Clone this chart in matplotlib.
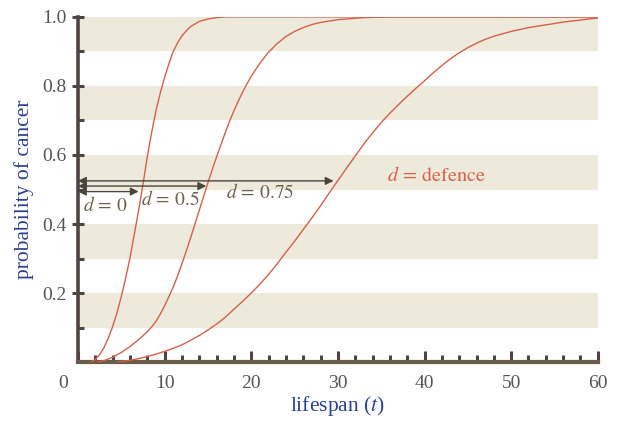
"""Probability of cancer against lifespan for three defence levels"""
import matplotlib
matplotlib.use("Agg")
import matplotlib.pyplot as plt
from matplotlib.transforms import ScaledTranslation

plt.rcParams['font.family'] = ['Liberation Serif', 'DejaVu Serif']
plt.rcParams['mathtext.fontset'] = 'stix'

# curves: lifespan t -> probability
t_d0 = [1.5, 2, 2.5, 3, 3.5, 4, 4.5, 5, 5.5, 6, 6.5, 7, 7.5, 8, 8.5, 9, 9.5,
        10, 10.5, 11, 11.5, 12, 12.5, 13, 14, 15, 16, 17, 60]
p_d0 = [0, 0.008, 0.022, 0.042, 0.07, 0.103, 0.143, 0.19, 0.243, 0.302,
        0.37, 0.44, 0.515, 0.595, 0.665, 0.728, 0.78, 0.825, 0.865, 0.9,
        0.925, 0.945, 0.96, 0.972, 0.987, 0.994, 0.998, 1.0, 1.0]

t_d05 = [2.2, 3, 4, 5, 6, 7, 8, 8.5, 9, 9.5, 10, 10.5, 11, 11.5, 12, 12.5,
         13, 13.5, 14, 14.5, 15, 15.5, 16, 16.5, 17, 17.5, 18, 18.5, 19,
         19.5, 20, 21, 22, 23, 24, 25, 26, 27, 28, 30, 33, 36, 60]
p_d05 = [0, 0.004, 0.014, 0.028, 0.045, 0.065, 0.088, 0.102, 0.118, 0.139,
         0.163, 0.19, 0.218, 0.25, 0.285, 0.322, 0.36, 0.4, 0.44, 0.48,
         0.52, 0.558, 0.595, 0.63, 0.665, 0.698, 0.728, 0.756, 0.782, 0.806,
         0.828, 0.866, 0.898, 0.923, 0.943, 0.958, 0.969, 0.978, 0.984,
         0.992, 0.998, 1.0, 1.0]

t_d075 = [4.5, 6, 7, 8, 9, 10, 11, 12, 13, 14, 15, 16, 17, 18, 19, 20, 21,
          22, 23, 24, 25, 26, 27, 28, 29, 30, 31, 32, 33, 34, 35, 36, 37,
          38, 39, 40, 41, 42, 43, 44, 45, 46, 47, 48, 50, 52, 54, 56, 58, 60]
p_d075 = [0, 0.005, 0.01, 0.016, 0.023, 0.031, 0.04, 0.05, 0.063, 0.077,
          0.093, 0.11, 0.13, 0.153, 0.176, 0.2, 0.226, 0.254, 0.285, 0.318,
          0.35, 0.384, 0.418, 0.453, 0.49, 0.526, 0.562, 0.597, 0.632, 0.664,
          0.694, 0.721, 0.746, 0.77, 0.793, 0.815, 0.838, 0.859, 0.879,
          0.896, 0.911, 0.924, 0.935, 0.944, 0.958, 0.969, 0.977, 0.985,
          0.991, 0.997]

# arrows from t=0 to where each curve passes ~0.5
arrow_ends = [7.0, 14.8, 29.5]
arrow_levels = [0.494, 0.510, 0.525]
arrow_labels = [r'$d\,=\,0$', r'$d\,=\,0.5$', r'$d\,=\,0.75$']
label_pos = [(3.2, 0.455), (10.6, 0.472), (21.0, 0.49)]

bands = [(0.1, 0.2), (0.3, 0.4), (0.5, 0.6), (0.7, 0.8), (0.9, 1.0)]

curve_col = '#d4604a'
band_col = '#eeeadb'

fig = plt.figure(figsize=(6.24, 4.23), dpi=100)
ax = fig.add_axes([0.125, 0.144, 0.833, 0.816])

for lo, hi in bands:
    ax.axhspan(lo, hi, color=band_col, lw=0, zorder=0)

for tt, pp in [(t_d0, p_d0), (t_d05, p_d05), (t_d075, p_d075)]:
    ax.plot(tt, pp, color=curve_col, lw=1.0, zorder=3)

for end, lev in zip(arrow_ends, arrow_levels):
    ax.annotate('', xy=(end, lev), xytext=(0, lev),
                arrowprops=dict(arrowstyle='<|-|>', color='#4a463c', lw=1.0,
                                mutation_scale=12, shrinkA=0, shrinkB=0),
                zorder=4)
for txt, (x, y) in zip(arrow_labels, label_pos):
    ax.text(x, y, txt, color='#6b6350', fontsize=14, ha='center', va='center')

ax.text(41.4, 0.537, r'$d\,=\,\mathrm{defence}$', color=curve_col, fontsize=14.5,
        ha='center', va='center')

ax.set_xlim(0, 60)
ax.set_ylim(0, 1.0)
ax.set_xticks(range(0, 61, 10))
ax.set_xticks(range(0, 61, 2), minor=True)
ax.set_yticks([0.2, 0.4, 0.6, 0.8, 1.0])
ax.set_yticklabels(['0.2', '0.4', '0.6', '0.8', '1.0'])
ax.set_yticks([0.1, 0.3, 0.5, 0.7, 0.9], minor=True)

for s in ['top', 'right']:
    ax.spines[s].set_visible(False)
ax.spines['left'].set_linewidth(2.6)
ax.spines['left'].set_color('#4f4444')
ax.spines['bottom'].set_linewidth(3.0)
ax.spines['bottom'].set_color('#6b5d47')

ax.tick_params(axis='x', which='major', direction='in', length=8, width=2.2,
               color='#4f4444', labelsize=14, labelcolor='#555555', pad=9)
ax.tick_params(axis='x', which='minor', direction='in', length=5, width=2.2,
               color='#4f4444')
ax.tick_params(axis='y', which='major', direction='inout', length=8, width=2.2,
               color='#4f4444', labelsize=14, labelcolor='#555555', pad=4)
ax.tick_params(axis='y', which='minor', direction='in', length=4, width=2.2,
               color='#4f4444')

# the shared origin label sits a little left of the axis
zero_lab = ax.get_xticklabels()[0]
zero_lab.set_transform(zero_lab.get_transform() +
                       ScaledTranslation(-11 / 72, 0, fig.dpi_scale_trans))

ax.set_ylabel('probability of cancer', color='#2b3f8f', fontsize=15.5, labelpad=6)
ax.set_xlabel(r'lifespan ($t$)', color='#2b3f8f', fontsize=15.5, labelpad=2)

fig.savefig('out.png', dpi=100)
